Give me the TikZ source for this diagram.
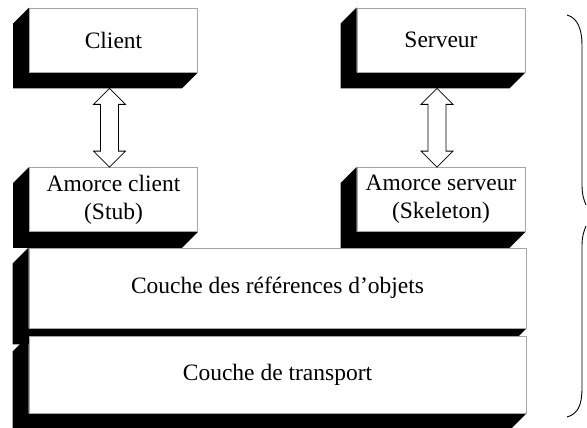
\documentclass[tikz,border=0pt]{standalone}
\usepackage{fontspec}
\setmainfont{Liberation Serif}
\usetikzlibrary{calc,backgrounds}

% black left side and bottom of a slab, 16pt deep
\newcommand{\slabdepth}[1]{%
  \fill (#1.north west) -- ++(-16,16) -- ($(#1.south west)+(-16,16)$)
    -- ($(#1.south east)+(-16,16)$) -- (#1.south east) -- (#1.south west) -- cycle;}
% hollow two-headed arrow from #1 (top tip) to #2 (bottom tip)
\newcommand{\twoway}[2]{%
  \draw[fill=white, line width=0.8pt] (#1) -- ($(#1)+(16,16)$) -- ($(#1)+(9,16)$) -- ($(#2)+(9,-16)$)
    -- ($(#2)+(16,-16)$) -- (#2) -- ($(#2)+(-16,-16)$) -- ($(#2)+(-9,-16)$)
    -- ($(#1)+(-9,16)$) -- ($(#1)+(-16,16)$) -- cycle;}

\begin{document}
\begin{tikzpicture}[x=1pt, y=-1pt, font=\fontsize{23.5}{28}\selectfont,
slab/.style={draw=gray!70, line width=0.8pt, fill=white, align=center, inner sep=0pt, minimum width=168pt, minimum height=64pt},
wide/.style={slab, minimum width=497pt}]
\useasboundingbox (0,0) rectangle (587,428);
\node[slab] (client) at (113.5,40) {Client};
\node[slab] (serveur) at (441,40) {Serveur};
\node[slab] (stub) at (113.5,199.5) {Amorce client\\(Stub)};
\node[slab] (skel) at (441,199.5) {Amorce serveur\\(Skeleton)};
\node[wide, minimum height=80pt] (refs) at (277.5,288) {Couche des r\'ef\'erences d'objets};
\node[wide, minimum height=77pt] (transport) at (277.5,374.5) {Couche de transport};
\begin{scope}[on background layer]
\slabdepth{client} \slabdepth{serveur} \slabdepth{stub} \slabdepth{skel} \slabdepth{refs} \slabdepth{transport}
\end{scope}
% calls between each side and its stub
\coordinate (c1) at ($(client.south)+(-4,16)$);
\coordinate (c2) at ($(stub.north)+(-4,0)$);
\coordinate (s1) at ($(serveur.south)+(-4,16)$);
\coordinate (s2) at ($(skel.north)+(-4,0)$);
\twoway{c1}{c2}
\twoway{s1}{s2}
% split brace on the right
\draw[line width=0.9pt] (567,15) .. controls (578,18) and (582,30) .. (582,45) -- (582,185) .. controls (582,195) and (584,200) .. (586,205);
\draw[line width=0.9pt] (586,226) .. controls (584,231) and (582,236) .. (582,246) -- (582,388) .. controls (582,405) and (578,414) .. (567,417);
\end{tikzpicture}
\end{document}
